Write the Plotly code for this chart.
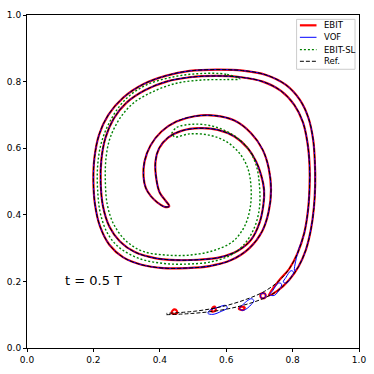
import plotly.graph_objects as go

# Reference interface: outer edge (tail -> tip) and inner edge (tip -> tail)
REF_OUTER_X = [0.420,0.500,0.580,0.650,0.710,0.755,0.790,0.818,0.840,0.855,0.864,0.868,0.867,0.862,0.848,0.822,0.780,0.720,0.650,0.570,0.490,0.420,0.350,0.290,0.245,0.217,0.203,0.200,0.205,0.220,0.248,0.290,0.345,0.410,0.480,0.550,0.615,0.670,0.708,0.728,0.735,0.728,0.710,0.675,0.625,0.565,0.505,0.450,0.405,0.372,0.354,0.351,0.358,0.373,0.394,0.414,0.428]
REF_OUTER_Y = [0.100,0.104,0.113,0.128,0.148,0.172,0.205,0.245,0.295,0.355,0.420,0.490,0.560,0.625,0.690,0.745,0.790,0.820,0.833,0.836,0.832,0.818,0.792,0.752,0.700,0.640,0.570,0.500,0.430,0.365,0.310,0.272,0.250,0.240,0.240,0.246,0.264,0.300,0.350,0.410,0.475,0.540,0.595,0.645,0.683,0.698,0.696,0.680,0.650,0.608,0.560,0.515,0.480,0.456,0.436,0.424,0.425]
REF_INNER_X = [0.428,0.416,0.400,0.390,0.387,0.398,0.425,0.465,0.520,0.575,0.625,0.665,0.690,0.705,0.714,0.712,0.700,0.675,0.635,0.580,0.515,0.450,0.385,0.325,0.280,0.248,0.229,0.222,0.224,0.236,0.262,0.300,0.355,0.420,0.490,0.570,0.645,0.710,0.765,0.805,0.831,0.845,0.851,0.851,0.846,0.835,0.815,0.790,0.757,0.715,0.660,0.590,0.510,0.420]
REF_INNER_Y = [0.428,0.444,0.466,0.505,0.560,0.600,0.632,0.652,0.660,0.655,0.635,0.600,0.560,0.520,0.475,0.430,0.375,0.325,0.292,0.272,0.265,0.264,0.270,0.288,0.320,0.365,0.425,0.495,0.565,0.630,0.690,0.737,0.774,0.800,0.813,0.817,0.813,0.800,0.772,0.730,0.678,0.615,0.550,0.480,0.410,0.345,0.285,0.238,0.200,0.170,0.146,0.125,0.111,0.104]

# EBIT-SL interface (shorter band)
SL_OUTER_X = [0.641,0.600,0.520,0.440,0.360,0.300,0.255,0.225,0.213,0.213,0.222,0.245,0.280,0.340,0.410,0.480,0.550,0.610,0.655,0.685,0.700,0.700,0.690,0.665,0.620,0.560,0.500,0.450,0.436]
SL_OUTER_Y = [0.808,0.822,0.824,0.814,0.790,0.750,0.690,0.620,0.550,0.470,0.400,0.340,0.300,0.268,0.254,0.252,0.258,0.277,0.312,0.362,0.420,0.490,0.550,0.600,0.640,0.666,0.672,0.662,0.645]
SL_INNER_X = [0.436,0.445,0.490,0.550,0.600,0.640,0.665,0.675,0.672,0.655,0.620,0.560,0.490,0.420,0.350,0.300,0.262,0.242,0.236,0.238,0.250,0.280,0.320,0.380,0.450,0.530,0.600,0.641]
SL_INNER_Y = [0.645,0.634,0.643,0.639,0.620,0.585,0.540,0.480,0.420,0.365,0.320,0.292,0.279,0.279,0.290,0.320,0.370,0.430,0.500,0.570,0.630,0.690,0.735,0.770,0.795,0.805,0.806,0.808]

# EBIT droplets near the tail
EBIT_DROPS = [
    ([0.436,0.439,0.445,0.451,0.452,0.436], [0.104,0.113,0.116,0.112,0.104,0.104]),
    ([0.556,0.560,0.566,0.568,0.556], [0.110,0.122,0.124,0.112,0.110]),
    ([0.638,0.646,0.656,0.650,0.638], [0.118,0.124,0.121,0.114,0.118]),
    ([0.719,0.717,0.711,0.705,0.703,0.705,0.711,0.717,0.719], [0.157,0.163,0.165,0.163,0.157,0.151,0.149,0.151,0.157]),
]
# VOF droplets near the tail
VOF_DROPS = [
    ([0.545,0.550,0.575,0.598,0.603,0.585,0.560,0.545], [0.104,0.113,0.122,0.128,0.120,0.110,0.101,0.104]),
    ([0.640,0.648,0.675,0.683,0.676,0.652,0.640], [0.118,0.128,0.148,0.143,0.131,0.113,0.118]),
    ([0.719,0.717,0.711,0.705,0.703,0.705,0.711,0.717,0.719], [0.157,0.163,0.165,0.163,0.157,0.151,0.149,0.151,0.157]),
    ([0.731,0.740,0.757,0.767,0.762,0.745,0.731], [0.160,0.172,0.195,0.192,0.178,0.158,0.160]),
    ([0.772,0.780,0.795,0.803,0.795,0.782,0.772], [0.198,0.212,0.232,0.228,0.212,0.195,0.198]),
]
EBIT_TAIL_START = (0.728, 0.158)
VOF_TAIL_START = (0.806, 0.232)

TICKS = [0.0, 0.2, 0.4, 0.6, 0.8, 1.0]
TICK_LABELS = ["0.0", "0.2", "0.4", "0.6", "0.8", "1.0"]

LEGEND_NAMES = ["EBIT", "VOF", "EBIT-SL", "Ref."]
LEGEND_COLORS = ["red", "blue", "green", "black"]
LEGEND_WIDTHS = [2.2, 1, 1.4, 1]
LEGEND_DASHES = ["solid", "solid", "2px,2px", "4px,2px"]

fig = go.Figure()

# EBIT main body
ex = [EBIT_TAIL_START[0]] + REF_OUTER_X[5:] + REF_INNER_X[:-5] + [EBIT_TAIL_START[0]]
ey = [EBIT_TAIL_START[1]] + REF_OUTER_Y[5:] + REF_INNER_Y[:-5] + [EBIT_TAIL_START[1]]
fig.add_trace(go.Scatter(x=ex, y=ey, mode="lines", line=dict(color="red", width=2.2, shape="spline"),
                         name="EBIT", showlegend=False))
for dx, dy in EBIT_DROPS:
    fig.add_trace(go.Scatter(x=dx, y=dy, mode="lines", line=dict(color="red", width=2.2, shape="spline"),
                             showlegend=False))

# VOF main body
vx = [VOF_TAIL_START[0]] + REF_OUTER_X[7:] + REF_INNER_X[:-7] + [VOF_TAIL_START[0]]
vy = [VOF_TAIL_START[1]] + REF_OUTER_Y[7:] + REF_INNER_Y[:-7] + [VOF_TAIL_START[1]]
fig.add_trace(go.Scatter(x=vx, y=vy, mode="lines", line=dict(color="blue", width=1, shape="spline"),
                         name="VOF", showlegend=False))
for dx, dy in VOF_DROPS:
    fig.add_trace(go.Scatter(x=dx, y=dy, mode="lines", line=dict(color="blue", width=1, shape="spline"),
                             showlegend=False))

# EBIT-SL
sx = SL_OUTER_X + SL_INNER_X
sy = SL_OUTER_Y + SL_INNER_Y
fig.add_trace(go.Scatter(x=sx, y=sy, mode="lines",
                         line=dict(color="green", width=1.4, dash="2px,2px", shape="spline"),
                         name="EBIT-SL", showlegend=False))

# Reference
rx = REF_OUTER_X + REF_INNER_X
ry = REF_OUTER_Y + REF_INNER_Y
fig.add_trace(go.Scatter(x=rx, y=ry, mode="lines",
                         line=dict(color="black", width=1, dash="4px,2px", shape="spline"),
                         name="Ref.", showlegend=False))

fig.add_annotation(x=0.2, y=0.204, xref="x", yref="y", text="t = 0.5 T", showarrow=False,
                   font=dict(family="DejaVu Sans", size=13, color="black"))

# Legend box (matplotlib style)
fig.add_shape(type="rect", xref="paper", yref="paper", x0=0.812, x1=0.988, y0=0.837, y1=0.987,
              line=dict(color="#cccccc", width=1), fillcolor="rgba(255,255,255,0.85)", layer="above")
LEG_Y = [0.969, 0.933, 0.896, 0.861]
for name, col, w, d, yy in zip(LEGEND_NAMES, LEGEND_COLORS, LEGEND_WIDTHS, LEGEND_DASHES, LEG_Y):
    fig.add_shape(type="line", xref="paper", yref="paper", x0=0.822, x1=0.872, y0=yy, y1=yy,
                  line=dict(color=col, width=w, dash=d), layer="above")
    fig.add_annotation(x=0.888, y=yy, xref="paper", yref="paper", text=name, showarrow=False,
                       xanchor="left", yanchor="middle",
                       font=dict(family="DejaVu Sans", size=8.5, color="black"))

axis_common = dict(range=[0, 1], tickvals=TICKS, ticktext=TICK_LABELS, ticks="outside", ticklen=3,
                   tickcolor="black", showline=True, linecolor="black", linewidth=1, mirror=True,
                   showgrid=False, zeroline=False, automargin=False,
                   tickfont=dict(family="DejaVu Sans", size=9, color="black"))
fig.update_xaxes(**axis_common)
fig.update_yaxes(**axis_common)

fig.update_layout(
    width=374, height=374,
    margin=dict(l=27, r=15, t=15, b=26),
    plot_bgcolor="white", paper_bgcolor="white",
    font=dict(family="DejaVu Sans", size=9, color="black"),
    showlegend=False,
)
fig.write_html("out.html", config={"displayModeBar": False},
               post_script="document.body.style.margin='0';document.body.style.overflow='hidden';")
